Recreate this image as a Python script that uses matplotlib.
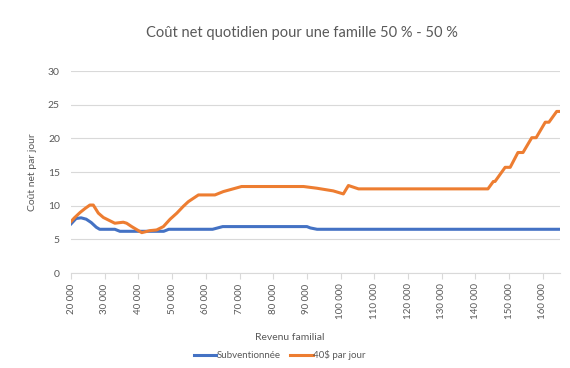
import numpy as np
import matplotlib
matplotlib.use("Agg")
import matplotlib.pyplot as plt
from matplotlib.ticker import FuncFormatter

plt.rcParams['font.family'] = ['Lato', 'DejaVu Sans']

# Subventionnée
sub_x = [20000, 21500, 23000, 24500, 26000, 27500, 28500, 33000, 34500, 47500,
         49000, 62000, 65000, 90000, 91000, 93000, 165000]
sub_y = [7.3, 8.1, 8.2, 8.0, 7.5, 6.8, 6.5, 6.5, 6.2, 6.2,
         6.5, 6.5, 6.9, 6.9, 6.7, 6.5, 6.5]

# 40$ par jour
jour_x = [20000, 21000, 22700, 24200, 25600, 26600, 28100, 29600, 31600, 33000,
          35500, 36500, 38000, 41000, 43400, 45400, 47400, 49400, 51400, 53300,
          54800, 57800, 62700, 65200, 70600, 89000, 92900, 97800, 100800, 102300,
          105300, 143700, 145300, 145800, 148800, 150300, 152600, 154100, 156700,
          158000, 160700, 161800, 164100, 165000]
jour_y = [7.65, 8.2, 9.0, 9.6, 10.1, 10.1, 8.9, 8.25, 7.75, 7.4,
          7.55, 7.4, 6.9, 6.0, 6.3, 6.4, 6.9, 8.0, 8.9, 9.9,
          10.6, 11.6, 11.6, 12.1, 12.85, 12.85, 12.6, 12.2, 11.75, 13.0,
          12.5, 12.5, 13.6, 13.6, 15.7, 15.7, 17.9, 17.9, 20.1,
          20.1, 22.4, 22.4, 24.0, 24.0]

xticks = list(range(20000, 160001, 10000))
grey = "#595959"

fig = plt.figure(figsize=(5.7, 3.68), dpi=100)
ax = fig.add_axes([0.1246, 0.258, 0.8574, 0.549])

ax.plot(sub_x, sub_y, color="#4472C4", lw=2.2, label="Subventionnée")
ax.plot(jour_x, jour_y, color="#ED7D31", lw=2.2, label="40$ par jour")

ax.set_xlim(20000, 165000)
ax.set_ylim(0, 30)
ax.set_yticks(range(0, 31, 5))
ax.set_xticks(xticks)
ax.xaxis.set_major_formatter(FuncFormatter(lambda v, p: f"{int(v):,}".replace(",", " ")))
ax.tick_params(axis='x', labelrotation=90, labelsize=7, colors=grey, length=4, color="#d9d9d9")
ax.tick_params(axis='y', labelsize=7.5, colors=grey, length=0, pad=8)
ax.grid(axis='y', color="#d9d9d9", lw=0.8)
ax.set_axisbelow(True)
for s in ['top', 'right', 'left']:
    ax.spines[s].set_visible(False)
ax.spines['bottom'].set_color("#d9d9d9")

ax.set_ylabel("Coût net par jour", fontsize=7.5, color=grey, labelpad=8)
fig.text(0.509, 0.075, "Revenu familial", ha='center', fontsize=7.5, color=grey)
fig.text(0.53, 0.9, "Coût net quotidien pour une famille 50 % - 50 %", ha='center',
         fontsize=10.5, color=grey)
fig.legend(loc='center', bbox_to_anchor=(0.491, 0.035), ncol=2, frameon=False,
           fontsize=7, labelcolor=grey, handlelength=2.3, columnspacing=1.0,
           handletextpad=0.05)

fig.savefig("out.png", dpi=100)
